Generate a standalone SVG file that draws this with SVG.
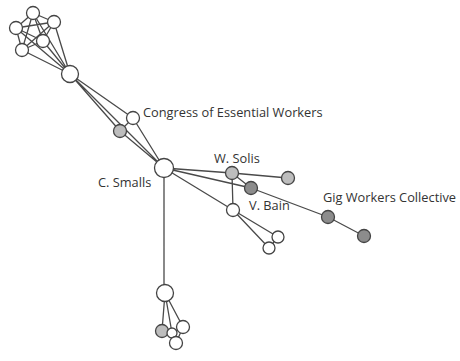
<svg xmlns="http://www.w3.org/2000/svg" width="460" height="361" viewBox="0 0 460 361">
<style>
.e{stroke:#4a4a4a;stroke-width:1.3;fill:none}
.n{stroke:#444;stroke-width:1.3;fill:#fff}
.g{fill:#bdbdbd}
.d{fill:#8c8c8c}
.t{font-family:"Open Sans","Liberation Sans",sans-serif;font-size:12.8px;fill:#333}
</style>
<rect width="460" height="361" fill="#fff"/>
<g id="connectors">
<path class="e" d="M33 13L54 22M33 13L16 28M33 13L43 41M33 13L22 50M54 22L16 28M54 22L43 41M54 22L22 50M16 28L43 41M16 28L22 50M43 41L22 50"/>
<path class="e" d="M33 13L70 74M54 22L70 74M16 28L70 74M43 41L70 74M22 50L70 74"/>
<path class="e" d="M70 74L133 118M70 74L120 131M70 74L164 168M72 76L164 168M133 118L164 168M120 131L164 168M133 118L120 131"/>
<path class="e" d="M164 168L232 173M164 168L251 188M164 168L233 210M164 168L164 293M232 173L288 178M232 173L233 210M232 173L251 188M251 188L328 217L364 236M233 210L278 237M233 210L269 248M278 237L269 248"/>
<path class="e" d="M165 293L162 331M165 293L172 333M165 293L183 327M162 331L172 333M172 333L183 327M172 333L176 343M183 327L176 343"/>
</g>
<g id="n1"><circle class="n" cx="33" cy="13" r="6.5"/></g>
<g id="n2"><circle class="n" cx="54" cy="22" r="6.5"/></g>
<g id="n3"><circle class="n" cx="16" cy="28" r="6.5"/></g>
<g id="n4"><circle class="n" cx="43" cy="41" r="6.5"/></g>
<g id="n5"><circle class="n" cx="22" cy="50" r="6.5"/></g>
<g id="hub1"><circle class="n" cx="70" cy="74" r="8.5"/></g>
<g id="congress"><circle class="n" cx="133" cy="118" r="6.5"/><text class="t" x="143" y="117">Congress of Essential Workers</text></g>
<g id="n6"><circle class="n g" cx="120" cy="131" r="6.5"/></g>
<g id="smalls"><circle class="n" cx="164" cy="168" r="9.5"/><text class="t" x="98" y="187">C. Smalls</text></g>
<g id="solis"><circle class="n g" cx="232" cy="173" r="6.5"/><text class="t" x="214" y="163">W. Solis</text></g>
<g id="n7"><circle class="n g" cx="288" cy="178" r="6.5"/></g>
<g id="bain"><circle class="n d" cx="251" cy="188" r="6.5"/><text class="t" x="249" y="210">V. Bain</text></g>
<g id="n8"><circle class="n" cx="233" cy="210" r="6.5"/></g>
<g id="n9"><circle class="n" cx="278" cy="237" r="6"/></g>
<g id="n10"><circle class="n" cx="269" cy="248" r="6"/></g>
<g id="gig"><circle class="n d" cx="328" cy="217" r="6.5"/><text class="t" x="323" y="202">Gig Workers Collective</text></g>
<g id="n11"><circle class="n d" cx="364" cy="236" r="6.5"/></g>
<g id="hub2"><circle class="n" cx="165" cy="293" r="8.5"/></g>
<g id="n12"><circle class="n g" cx="162" cy="331" r="6.5"/></g>
<g id="n13"><circle class="n" cx="183" cy="327" r="6.5"/></g>
<g id="n14"><circle class="n" cx="172" cy="333" r="5"/></g>
<g id="n15"><circle class="n" cx="176" cy="343" r="6.5"/></g>
</svg>
